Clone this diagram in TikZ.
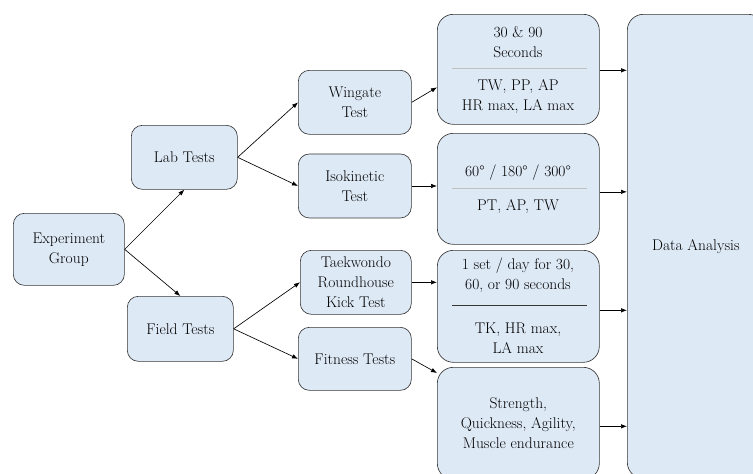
\documentclass[tikz,border=0pt]{standalone}
\usepackage{fontspec}
\usetikzlibrary{positioning,arrows.meta}
\definecolor{boxblue}{RGB}{222,233,246}
\definecolor{boxline}{RGB}{55,55,55}

\begin{document}
\begin{tikzpicture}[%
            x=1pt, y=1pt,
            ->,
            >={Latex[length=6pt,width=4.5pt]},
            line width=0.65pt,
            font=\rmfamily\fontsize{15.5}{20}\selectfont,
            test/.style={%
            	rectangle,
            	rounded corners=11pt,
            	draw=boxline,
            	fill=boxblue,
            	anchor=north west,
            	align=center,
            	inner sep=1pt
            },
            result/.style={%
            	test,
            	rounded corners=16pt,
            	minimum width=162pt,
            	minimum height=111pt
            },
            part/.style={%
            	align=center,
            	inner sep=1pt
            },
            divider/.style={%
            	-,
            	line width=0.5pt
            }
            ]
            \clip (0,0) rectangle (753,-474);
            % first two columns
            \node[test, minimum width=111pt, minimum height=72pt] (exp) at (13,-213) {Experiment\\Group};
            \node[test, minimum width=106pt, minimum height=64pt] (lab) at (131,-125) {Lab Tests};
            \node[test, minimum width=106pt, minimum height=65pt] (field) at (127,-296) {Field Tests};
            % tests
            \node[test, minimum width=113pt, minimum height=64pt] (wingate) at (298,-70) {Wingate\\Test};
            \node[test, minimum width=113pt, minimum height=64pt] (iso) [below=19pt of wingate.south west, anchor=north west] {Isokinetic\\Test};
            \node[test, minimum width=111pt, minimum height=64pt] (tkd) at (300,-250) {Taekwondo\\Roundhouse\\Kick Test};
            \node[test, minimum width=113pt, minimum height=63pt] (fit) at (298,-327) {Fitness Tests};
            % results
            \node[result, minimum height=110pt] (res1) at (437,-14) {};
            \node[result] (res2) at (437,-133) {};
            \node[result, minimum height=112pt] (res3) at (437,-250) {};
            \node[result, minimum height=112pt] (res4) at (437,-367) {Strength,\\Quickness, Agility,\\Muscle endurance};
            \node[result, minimum width=137pt, minimum height=464pt] (data) at (627,-14) {Data Analysis};
            
            \node[part] (res1a) at (518,-42.5) {30 \& 90\\Seconds};
            \node[part] (res1b) at (518,-96.5) {TW, PP, AP\\HR max, LA max};
            \node[part] (res2a) at (518,-173) {60° / 180° / 300°};
            \node[part] (res2b) at (518,-207) {PT, AP, TW};
            \node[part] (res3a) at (518,-275) {1 set / day for 30,\\60, or 90 seconds};
            \node[part] (res3b) at (518,-338) {TK, HR max,\\LA max};
            
            \draw[divider, black!25] (452,-68) -- (587,-68);
            \draw[divider, black!25] (452,-188) -- (587,-188);
            \draw[divider, boxline, line width=0.8pt] (452,-305) -- (587,-305);
            
            \path (exp.east) edge (lab.south)
            (exp.east) edge (field.north)
            (lab.east) edge (wingate.west)
            (lab.east) edge (iso.west)
            (field.east) edge (tkd.west)
            (field.east) edge (fit.west)
            (wingate.east) edge ([yshift=-18pt]res1.west)
            (iso.east) edge (iso.east -| res2.west)
            (tkd.east) edge (tkd.east -| res3.west)
            (fit.east) edge ([yshift=-6pt]res4.north west)
            ([yshift=-1pt]res1.east) edge ([yshift=-1pt]res1.east -| data.west)
            ([yshift=-3pt]res2.east) edge ([yshift=-3pt]res2.east -| data.west)
            ([yshift=-4pt]res3.east) edge ([yshift=-4pt]res3.east -| data.west)
            ([yshift=-3pt]res4.east) edge ([yshift=-3pt]res4.east -| data.west);
            \end{tikzpicture}
\end{document}
